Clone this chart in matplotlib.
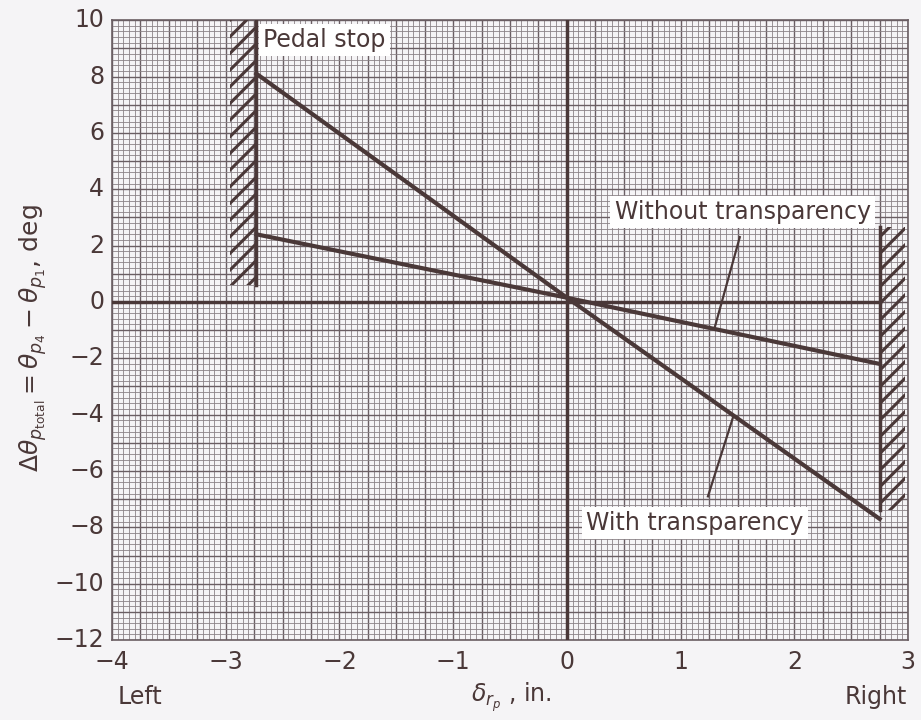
import matplotlib
matplotlib.use("Agg")
import matplotlib.pyplot as plt
from matplotlib.patches import Rectangle
import numpy as np

# ---- data ----
stop_left = -2.73
stop_right = 2.75
with_x = [-2.73, 0.0, 2.75]
with_y = [8.1, 0.15, -7.7]
without_x = [-2.73, 0.0, 2.75]
without_y = [2.4, 0.15, -2.2]
zero_x = [-4.0, 2.75]
zero_y = [0.0, 0.0]
xticks = [-4, -3, -2, -1, 0, 1, 2, 3]
xtick_labels = ["−4", "−3", "−2", "−1", "0", "1", "2", "3"]
yticks = [-12, -10, -8, -6, -4, -2, 0, 2, 4, 6, 8, 10]
ytick_labels = ["−12", "−10", "−8", "−6", "−4", "−2", "0", "2", "4", "6", "8", "10"]
left_stop_y = (0.6, 10.0)
right_stop_y = (-7.4, 2.65)

ink = "#4a3838"
grid_c = "#8a8286"
bg = "#f5f4f6"

plt.rcParams["hatch.linewidth"] = 2.2
plt.rcParams["hatch.color"] = ink

fig = plt.figure(figsize=(9.21, 7.2), dpi=100, facecolor=bg)
ax = fig.add_axes([0.1216, 0.111, 0.8644, 0.861])
ax.set_facecolor(bg)
ax.set_xlim(-4, 3)
ax.set_ylim(-12, 10)

# grid
ax.set_xticks(np.arange(-4, 3.001, 0.25), minor=False)
ax.set_xticks(np.arange(-4, 3.001, 0.05), minor=True)
ax.set_yticks(np.arange(-12, 10.001, 1.0), minor=False)
ax.set_yticks(np.arange(-12, 10.001, 0.2), minor=True)
ax.grid(which="minor", color=grid_c, linewidth=0.7, alpha=0.85)
ax.grid(which="major", color="#6a5e63", linewidth=1.0)
ax.tick_params(which="both", length=0, labelbottom=False, labelleft=False)
for s in ax.spines.values():
    s.set_color("#6a5e63")
    s.set_linewidth(1.2)
ax.set_axisbelow(True)

# tick labels as text in data coordinates
for xv, lab in zip(xticks, xtick_labels):
    ax.text(xv, -12.35, lab, ha="center", va="top", fontsize=17, color=ink)
for yv, lab in zip(yticks, ytick_labels):
    ax.text(-4.07, yv, lab, ha="right", va="center", fontsize=17, color=ink)

# pedal stops
ax.add_patch(Rectangle((stop_left - 0.23, left_stop_y[0]), 0.23,
                       left_stop_y[1] - left_stop_y[0], facecolor="none",
                       edgecolor=ink, linewidth=0, hatch="//", zorder=3))
ax.plot([stop_left, stop_left], left_stop_y, color=ink, lw=2.5, zorder=4)
ax.add_patch(Rectangle((stop_right, right_stop_y[0]), 0.22,
                       right_stop_y[1] - right_stop_y[0], facecolor="none",
                       edgecolor=ink, linewidth=0, hatch="//", zorder=3))
ax.plot([stop_right, stop_right], right_stop_y, color=ink, lw=2.5, zorder=4)

# axes lines
ax.plot(zero_x, zero_y, color=ink, lw=2.5, zorder=4)
ax.axvline(0, color=ink, lw=2.5, zorder=4)

# data lines
ax.plot(with_x, with_y, color=ink, lw=3, zorder=5)
ax.plot(without_x, without_y, color=ink, lw=3, zorder=5)

box = dict(facecolor="white", edgecolor="none", pad=3)
ax.text(-2.67, 9.3, "Pedal stop", fontsize=17, color=ink, ha="left",
        va="center", bbox=box, zorder=6)
ax.text(0.42, 3.2, "Without transparency", fontsize=17, color=ink,
        ha="left", va="center", bbox=box, zorder=6)
ax.text(0.17, -7.85, "With transparency", fontsize=17, color=ink,
        ha="left", va="center", bbox=box, zorder=6)
ax.plot([1.52, 1.30], [2.3, -0.9], color=ink, lw=1.6, zorder=5)
ax.plot([1.24, 1.46], [-6.9, -4.1], color=ink, lw=1.6, zorder=5)

# axis labels
fig.text(0.128, 0.032, "Left", fontsize=17, color=ink, ha="left", va="center")
fig.text(0.985, 0.032, "Right", fontsize=17, color=ink, ha="right", va="center")
fig.text(0.555, 0.032, r"$\delta_{r_p}$ , in.", fontsize=17, color=ink,
         ha="center", va="center")
fig.text(0.036, 0.53, r"$\Delta\theta_{p_{\rm total}} = \theta_{p_4} - \theta_{p_1}$, deg",
         fontsize=18, color=ink, rotation=90, ha="center", va="center")

fig.savefig("out.png", dpi=100, facecolor=bg)
